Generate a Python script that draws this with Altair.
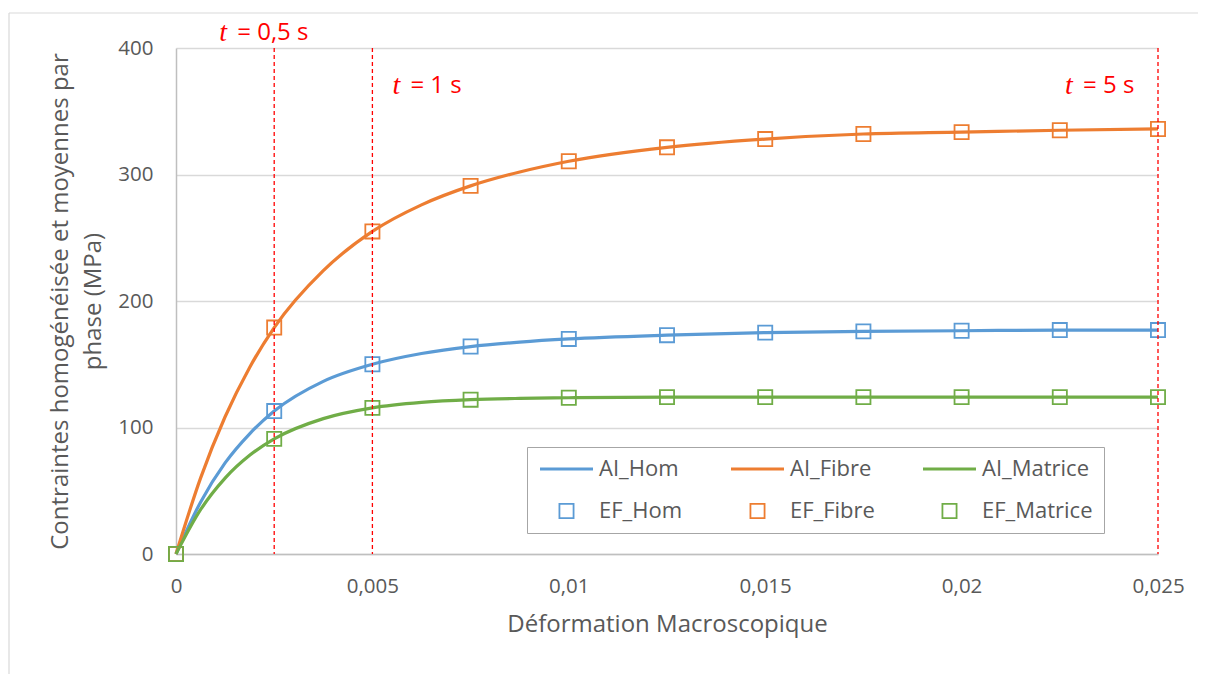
import altair as alt
import pandas as pd

# ---- data ----
x_ef = [0, 0.0025, 0.005, 0.0075, 0.01, 0.0125, 0.015, 0.0175, 0.02, 0.0225, 0.025]
ef_hom = [0, 113, 150, 164, 170, 173, 175, 176, 176.5, 177, 177]
ef_fibre = [0, 179, 255, 291, 310.5, 321.5, 328, 332, 333.5, 335, 336]
ef_matrice = [0, 91, 115.5, 122, 123.5, 124, 124, 124, 124, 124, 124]

x_ai = [0, 0.000625, 0.00125, 0.001875, 0.0025, 0.00375, 0.005, 0.00625, 0.0075,
        0.00875, 0.01, 0.0125, 0.015, 0.0175, 0.02, 0.0225, 0.025]
ai_hom = [0, 41, 72, 95, 113, 136.5, 150, 158.5, 164, 167.5, 170, 173, 175, 176, 176.5, 177, 177]
ai_fibre = [0, 60, 108.5, 147.5, 179, 224, 255, 276, 291, 302, 310.5, 321.5, 328, 332, 333.5, 335, 336]
ai_matrice = [0, 35, 60, 78, 91, 107, 115.5, 119.8, 122, 123, 123.5, 124, 124, 124, 124, 124, 124]

series_order = ["AI_Hom", "AI_Fibre", "AI_Matrice", "EF_Hom", "EF_Fibre", "EF_Matrice"]
series_colors = ["#5B9BD5", "#ED7D31", "#70AD47", "#5B9BD5", "#ED7D31", "#70AD47"]

t_x = [0.0025, 0.005, 0.025]
t_rest = ["= 0,5 s", "= 1 s", "= 5 s"]

x_ticks = [0, 0.005, 0.01, 0.015, 0.02, 0.025]
y_ticks = [0, 100, 200, 300, 400]

# ---- tables ----
ai_rows = []
for name, vals in [("AI_Hom", ai_hom), ("AI_Fibre", ai_fibre), ("AI_Matrice", ai_matrice)]:
    ai_rows += [{"x": x, "y": v, "serie": name} for x, v in zip(x_ai, vals)]
ai_df = pd.DataFrame(ai_rows)

ef_rows = []
for name, vals in [("EF_Hom", ef_hom), ("EF_Fibre", ef_fibre), ("EF_Matrice", ef_matrice)]:
    ef_rows += [{"x": x, "y": v, "serie": name} for x, v in zip(x_ef, vals)]
ef_df = pd.DataFrame(ef_rows)

t_df = pd.DataFrame({"x": t_x, "rest": t_rest, "i": [0, 1, 2]})
one = pd.DataFrame({"a": [0]})

W, H = 982, 506
FONT = "Open Sans"
GREY = "#595959"

xs = alt.Scale(domain=[0, 0.025], nice=False)
ys = alt.Scale(domain=[0, 400], nice=False)

xaxis = alt.Axis(title="Déformation Macroscopique", values=x_ticks, grid=False,
                 ticks=False, tickSize=0, labelPadding=22, titlePadding=16,
                 labelFlush=False,
                 labelExpr="replace(format(datum.value, '~g'), '.', ',')",
                 domainColor="#bfbfbf", domainWidth=1.5,
                 labelFont=FONT, labelFontSize=20.5, labelColor=GREY,
                 titleFont=FONT, titleFontSize=24, titleColor=GREY, titleFontWeight="normal")
yaxis = alt.Axis(title=["Contraintes homogénéisée et moyennes par", "phase (MPa)"],
                 values=y_ticks, grid=True, gridColor="#d9d9d9", gridWidth=1.3,
                 ticks=False, tickSize=0, labelPadding=23, titlePadding=12,
                 labelFlush=False,
                 titleLineHeight=33, domainColor="#bfbfbf", domainWidth=1.5,
                 labelFont=FONT, labelFontSize=20.5, labelColor=GREY,
                 titleFont=FONT, titleFontSize=24, titleColor=GREY, titleFontWeight="normal")

legend = alt.Legend(title=None, orient="none", legendX=351, legendY=399,
                    direction="horizontal", columns=3, labelFont=FONT,
                    labelFontSize=22, labelColor=GREY, strokeColor="#a6a6a6",
                    fillColor="white", padding=11, rowPadding=20, clipHeight=22,
                    columnPadding=46, labelOffset=4)

cscale = alt.Scale(domain=series_order, range=series_colors)
shscale = alt.Scale(domain=series_order, range=["stroke"] * 3 + ["square"] * 3)
szscale = alt.Scale(type="ordinal", domain=series_order, range=[2809] * 3 + [200] * 3)
swscale = alt.Scale(type="ordinal", domain=series_order, range=[3.2] * 3 + [1.8] * 3)

X = alt.X("x:Q", scale=xs, axis=xaxis)
Y = alt.Y("y:Q", scale=ys, axis=yaxis)

lines = alt.Chart(ai_df).mark_line(interpolate="monotone").encode(
    x=X, y=Y,
    color=alt.Color("serie:N", scale=cscale, legend=legend),
    strokeWidth=alt.StrokeWidth("serie:N", scale=swscale, legend=legend),
    detail="serie:N",
)

points = alt.Chart(ef_df).mark_point(filled=False, opacity=1).encode(
    x=X, y=Y,
    color=alt.Color("serie:N", scale=cscale, legend=legend),
    shape=alt.Shape("serie:N", scale=shscale, legend=legend),
    size=alt.Size("serie:N", scale=szscale, legend=legend),
    strokeWidth=alt.StrokeWidth("serie:N", scale=swscale, legend=legend),
)

rules = alt.Chart(t_df).mark_rule(color="#ff0000", strokeDash=[4, 3], strokeWidth=1.3).encode(
    x=X, y=alt.value(0), y2=alt.value(H)
)

# annotation offsets (style)
offs = [(-55, -37, -15), (20, 38, 38), (-93, -75, 38)]
ann_layers = []
for i, (dt, dr, yy) in enumerate(offs):
    sub = t_df[t_df["i"] == i]
    ann_layers.append(alt.Chart(sub).mark_text(
        text="t", font="Liberation Serif", fontStyle="italic", fontSize=28,
        color="#ff0000", align="left", baseline="middle", dx=dt).encode(
        x=X, y=alt.value(yy)))
    ann_layers.append(alt.Chart(sub).mark_text(
        font=FONT, fontSize=24, color="#ff0000", align="left",
        baseline="middle", dx=dr).encode(x=X, y=alt.value(yy), text="rest:N"))

frame_top = alt.Chart(one).mark_rule(color="#d9d9d9", strokeWidth=1.2).encode(
    x=alt.value(-167), x2=alt.value(1024), y=alt.value(-35))
frame_left = alt.Chart(one).mark_rule(color="#d9d9d9", strokeWidth=1.2).encode(
    x=alt.value(-167), y=alt.value(-35), y2=alt.value(630))

chart = alt.layer(frame_top, frame_left, lines, points, rules, *ann_layers).properties(
    width=W, height=H,
    background="white",
    autosize=alt.AutoSizeParams(type="none"),
    padding={"left": 168, "top": 40, "right": 40, "bottom": 120},
).configure_view(stroke=None)

chart.save("out.html", embed_options={"renderer": "svg", "actions": False})
